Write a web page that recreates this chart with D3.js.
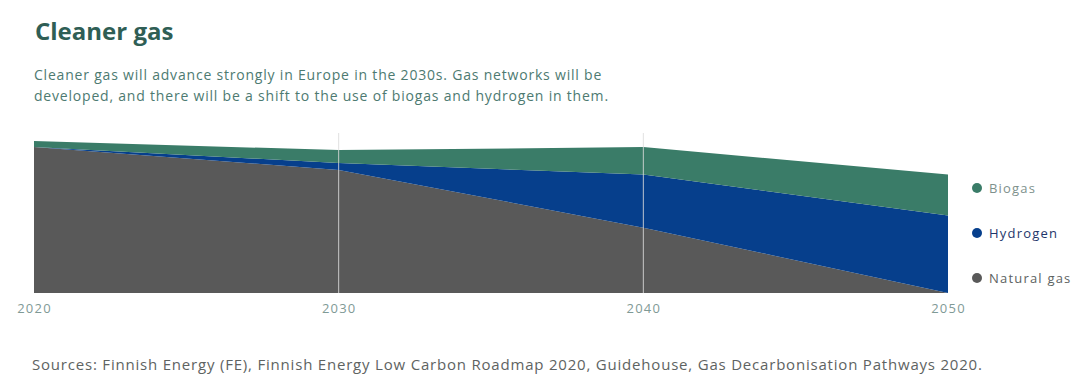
<!DOCTYPE html>
<html>
<head>
<meta charset="utf-8">
<script src="https://cdn.jsdelivr.net/npm/d3@7"></script>
<style>
  html, body { margin: 0; padding: 0; background: #fff; }
  svg { display: block; font-family: "Open Sans", sans-serif; }
</style>
</head>
<body>
<svg id="chart" width="1080" height="376"></svg>
<script>
const years = [2020, 2030, 2040, 2050];
const naturalGas = [96, 81, 43, 0];
const hydrogen = [0, 4.5, 35, 51];
const biogas = [4, 8.5, 18, 27];
const seriesNames = ["Natural gas", "Hydrogen", "Biogas"];
const seriesColors = ["#595959", "#063f8c", "#3a7c68"];
const legendTextColors = ["#5c6261", "#1e366b", "#7e918c"];
const tickYears = [2020, 2030, 2040, 2050];
const gridYears = [2030, 2040];

const title = "Cleaner gas";
const subtitleLines = [
  "Cleaner gas will advance strongly in Europe in the 2030s. Gas networks will be",
  "developed, and there will be a shift to the use of biogas and hydrogen in them."
];
const sourceText = "Sources: Finnish Energy (FE), Finnish Energy Low Carbon Roadmap 2020, Guidehouse, Gas Decarbonisation Pathways 2020.";

const svg = d3.select("#chart");

const table = years.map((y, i) => ({
  year: y,
  "Natural gas": naturalGas[i],
  "Hydrogen": hydrogen[i],
  "Biogas": biogas[i]
}));

const x = d3.scaleLinear().domain([2020, 2050]).range([34, 948]);
const y = d3.scaleLinear().domain([0, 100]).range([293, 141]);

const stack = d3.stack().keys(seriesNames);
const layers = stack(table);

const area = d3.area()
  .x(d => x(d.data.year))
  .y0(d => y(d[0]))
  .y1(d => y(d[1]))
  .curve(d3.curveLinear);

svg.append("g").selectAll("path")
  .data(layers)
  .join("path")
  .attr("d", area)
  .attr("fill", (d, i) => seriesColors[i]);

// vertical grid lines
svg.append("g").selectAll("line")
  .data(gridYears)
  .join("line")
  .attr("x1", d => x(d)).attr("x2", d => x(d))
  .attr("y1", 133).attr("y2", 293)
  .attr("stroke", "#dcdcdc")
  .attr("stroke-opacity", 0.85)
  .attr("stroke-width", 1);

// x axis labels
const xAxis = d3.axisBottom(x).tickValues(tickYears).tickFormat(d3.format("d")).tickSize(0).tickPadding(11);
const gx = svg.append("g").attr("transform", "translate(0,293)").call(xAxis);
gx.select(".domain").remove();
gx.selectAll("text")
  .attr("fill", "#7f9a96")
  .style("font-size", "13px")
  .style("letter-spacing", "1.2px")
  .style("font-family", "Open Sans, sans-serif")
  .attr("text-anchor", "middle");

// legend
const legendItems = ["Biogas", "Hydrogen", "Natural gas"];
const legendIdx = legendItems.map(n => seriesNames.indexOf(n));
const lg = svg.append("g");
legendItems.forEach((name, i) => {
  const cy = 188 + i * 45;
  const si = legendIdx[i];
  lg.append("circle").attr("cx", 977).attr("cy", cy).attr("r", 5).attr("fill", seriesColors[si]);
  lg.append("text").attr("x", 989).attr("y", cy + 4.5)
    .attr("fill", legendTextColors[si])
    .style("font-size", "13px")
    .style("letter-spacing", "1.2px")
    .text(name);
});

// title
svg.append("text").attr("x", 35).attr("y", 40)
  .attr("fill", "#2f5e55")
  .style("font-size", "24px").style("font-weight", "700")
  .text(title);

svg.append("g").selectAll("text")
  .data(subtitleLines)
  .join("text")
  .attr("x", 34).attr("y", (d, i) => 80 + i * 21)
  .attr("fill", "#4d7a71")
  .style("font-size", "14px")
  .style("letter-spacing", "0.8px")
  .text(d => d);

svg.append("text").attr("x", 32).attr("y", 370)
  .attr("fill", "#5e6362")
  .style("font-size", "15px")
  .style("letter-spacing", "0.8px")
  .text(sourceText);
</script>
</body>
</html>
